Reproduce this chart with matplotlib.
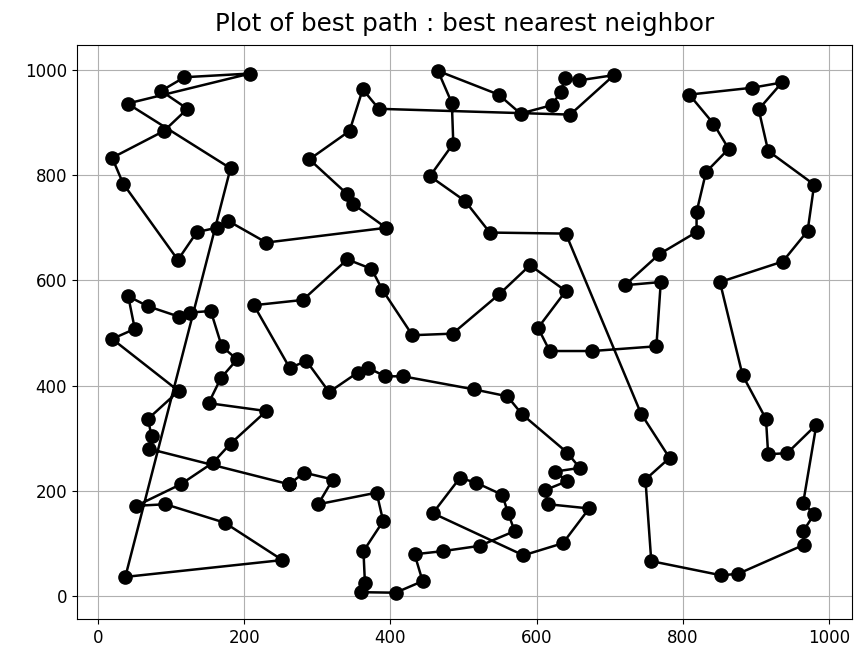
import matplotlib
matplotlib.use('Agg')
from matplotlib import pyplot as plt

# tour order (closed at the end)
xs = [261, 282, 321, 301, 381, 390, 363, 365, 360, 407, 444, 433, 472, 522, 570,
      561, 553, 517, 495, 458, 582, 636, 672, 616, 612, 642, 625, 659, 642, 580,
      560, 515, 417, 393, 369, 355, 316, 285, 262, 213, 280, 341, 374, 389, 430,
      485, 549, 591, 640, 602, 618, 676, 764, 770, 721, 768, 819, 819, 832, 863,
      842, 809, 895, 936, 904, 917, 980, 971, 937, 851, 882, 914, 917, 943, 983,
      965, 980, 965, 966, 876, 853, 757, 749, 782, 743, 640, 536, 502, 454, 486,
      484, 465, 548, 578, 621, 633, 639, 658, 706, 646, 384, 362, 344, 289, 340,
      349, 394, 230, 178, 162, 135, 109, 34, 19, 90, 122, 86, 118, 208, 40,
      181, 37, 252, 173, 92, 52, 113, 157, 181, 230, 151, 168, 190, 169, 154,
      125, 111, 68, 41, 50, 19, 110, 68, 73, 70]
ys = [213, 235, 222, 175, 197, 143, 86, 26, 8, 7, 29, 80, 86, 96, 124,
      158, 193, 216, 225, 158, 78, 101, 167, 175, 202, 219, 237, 244, 273, 346,
      380, 393, 418, 418, 434, 425, 388, 447, 434, 553, 563, 640, 622, 582, 496,
      499, 574, 629, 580, 510, 466, 466, 475, 597, 591, 650, 692, 730, 806, 850,
      898, 953, 966, 976, 925, 846, 782, 694, 636, 597, 420, 337, 270, 272, 326,
      178, 156, 124, 98, 43, 40, 67, 222, 263, 347, 689, 691, 751, 798, 860,
      937, 998, 953, 917, 933, 958, 984, 980, 990, 915, 926, 963, 884, 830, 765,
      745, 700, 672, 713, 700, 692, 639, 784, 833, 884, 926, 960, 986, 993, 936,
      813, 37, 69, 140, 175, 172, 213, 254, 290, 352, 367, 415, 450, 475, 542,
      539, 531, 551, 570, 508, 489, 390, 337, 304, 280]

px = xs + [xs[0]]
py = ys + [ys[0]]

fig = plt.figure(figsize=(8.55, 6.59), dpi=100)
ax = fig.add_axes([0.09, 0.061, 0.906, 0.871])
ax.plot(px, py, '-o', color='black', markersize=9.5, linewidth=1.8)
ax.grid(True)
ax.set_axisbelow(True)
ax.tick_params(labelsize=12)
ax.set_title("Plot of best path : best nearest neighbor", fontsize=17.7, pad=10)

fig.savefig('out.png', dpi=100)
